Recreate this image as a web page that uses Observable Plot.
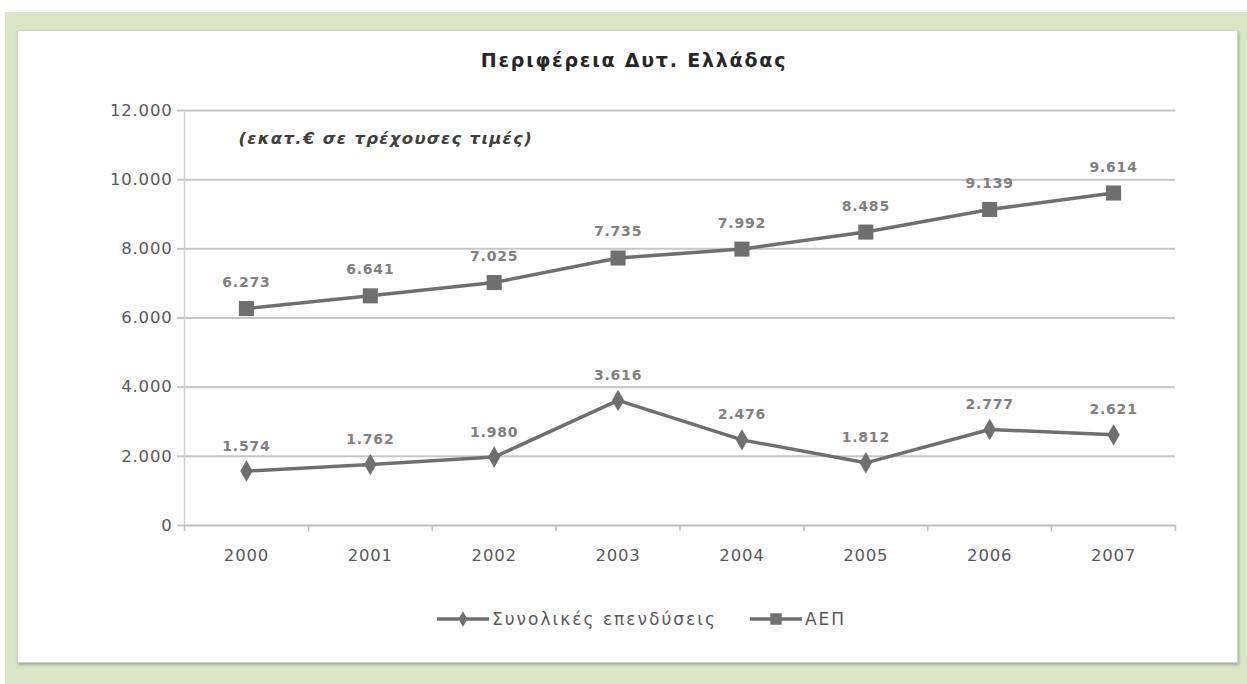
<!DOCTYPE html>
<html>
<head>
<meta charset="utf-8">
<script src="https://cdn.jsdelivr.net/npm/d3@7"></script>
<script src="https://cdn.jsdelivr.net/npm/@observablehq/plot@0.6"></script>
<style>
  html, body { margin: 0; padding: 0; background: #ffffff; width: 1247px; height: 684px; overflow: hidden; }
  body { position: relative; font-family: "DejaVu Sans", sans-serif; }
  #frame { position: absolute; left: 5px; top: 12px; width: 1242px; height: 672px; background: #dbe6c6; }
  #panel { position: absolute; left: 17px; top: 30px; width: 1219px; height: 631px; background: #ffffff;
           border: 1px solid #d0d0d0; box-shadow: 1px 2px 3px rgba(0,0,0,0.25); }
  #title { position: absolute; left: 0; top: 49px; width: 1268px; text-align: center; font-weight: bold; font-size: 19px; letter-spacing: 1.8px; color: #262626; }
  #chart { position: absolute; left: 0; top: 90px; }
  #chart svg text { letter-spacing: 0.8px; }
  #chart svg text.note { letter-spacing: 1.3px; }
  #legend { position: absolute; top: 609px; left: 437px; display: flex; gap: 33px; font-size: 17px; letter-spacing: 2px; color: #595959; }
  .item { display: flex; align-items: center; gap: 3px; }
</style>
</head>
<body>
<div id="frame"></div>
<div id="panel"></div>
<div id="title">Περιφέρεια Δυτ. Ελλάδας</div>
<div id="chart"></div>
<div id="legend"></div>
<script>
const years = [2000, 2001, 2002, 2003, 2004, 2005, 2006, 2007];
const investments = [1574, 1762, 1980, 3616, 2476, 1812, 2777, 2621];
const gdp = [6273, 6641, 7025, 7735, 7992, 8485, 9139, 9614];
const seriesNames = ["Συνολικές επενδύσεις", "ΑΕΠ"];
const yTicks = [0, 2000, 4000, 6000, 8000, 10000, 12000];
const note = "(εκατ.€ σε τρέχουσες τιμές)";

const locale = d3.formatLocale({decimal: ",", thousands: ".", grouping: [3], currency: ["", "€"]});
const fmt = locale.format(",d");

const invData = years.map((y, i) => ({year: y, value: investments[i]}));
const gdpData = years.map((y, i) => ({year: y, value: gdp[i]}));
const bounds = [years[0] - 0.5, ...years.map(y => y + 0.5)];

const lineColor = "#6f6f6f";
const labelColor = "#808080";

const chart = Plot.plot({
  width: 1247,
  height: 485,
  marginLeft: 184,
  marginRight: 72,
  marginTop: 20,
  marginBottom: 50,
  style: {fontFamily: "'DejaVu Sans', sans-serif", background: "transparent", overflow: "visible"},
  x: {domain: [bounds[0], bounds[bounds.length - 1]]},
  y: {domain: [0, 12000]},
  marks: [
    Plot.ruleY(yTicks.filter(d => d > 0), {stroke: "#c6c6c6", strokeWidth: 2}),
    Plot.ruleX([bounds[0]], {stroke: "#d0d0d0", strokeWidth: 1.5}),
    Plot.ruleY([0], {stroke: "#bdbdbd", strokeWidth: 2}),
    Plot.axisY({ticks: yTicks, tickFormat: fmt, tickSize: 7, tickPadding: 5, stroke: "#c6c6c6", strokeWidth: 2,
                fontSize: 16.5, color: "#595959", label: null}),
    Plot.axisX({ticks: years, tickFormat: d => String(d), tickSize: 0, tickPadding: 24, fontSize: 16.5, color: "#595959", label: null}),
    Plot.axisX({ticks: bounds, tickFormat: () => "", tickSize: 6, stroke: "#bdbdbd", strokeWidth: 1.5, label: null}),
    Plot.text([note], {frameAnchor: "top-left", dx: 54, dy: 22, text: d => d, fontSize: 16.5, fontWeight: "bold", fontStyle: "italic", fill: "#404040", textAnchor: "start", className: "note"}),
    Plot.line(gdpData, {x: "year", y: "value", stroke: lineColor, strokeWidth: 3.5}),
    Plot.dot(gdpData, {x: "year", y: "value", symbol: "square", r: 8.5, fill: lineColor, stroke: null}),
    Plot.text(gdpData, {x: "year", y: "value", text: d => fmt(d.value), dy: -26, fontSize: 14, fontWeight: "bold", fill: labelColor}),
    Plot.line(invData, {x: "year", y: "value", stroke: lineColor, strokeWidth: 3.5}),
    Plot.dot(invData, {x: "year", y: "value", symbol: "diamond", r: 6.5, fill: lineColor, stroke: null}),
    Plot.text(invData, {x: "year", y: "value", text: d => fmt(d.value), dy: -25, fontSize: 14, fontWeight: "bold", fill: labelColor})
  ]
});
chart.querySelectorAll("g.note text, .note text").forEach(t => t.classList.add("note"));
document.getElementById("chart").appendChild(chart);

// legend
const legend = document.getElementById("legend");
const symbols = ["diamond", "square"];
seriesNames.forEach((name, i) => {
  const item = document.createElement("div");
  item.className = "item";
  const s = d3.create("svg").attr("width", 52).attr("height", 20);
  s.append("line").attr("x1", 0).attr("x2", 52).attr("y1", 10).attr("y2", 10).attr("stroke", lineColor).attr("stroke-width", 3.5);
  const sym = symbols[i] === "square" ? d3.symbolSquare : d3.symbolDiamond;
  const size = symbols[i] === "square" ? 130 : 70;
  s.append("path").attr("d", d3.symbol(sym, size)()).attr("transform", "translate(26,10)").attr("fill", lineColor);
  item.appendChild(s.node());
  const t = document.createElement("span");
  t.textContent = name;
  item.appendChild(t);
  legend.appendChild(item);
});
</script>
</body>
</html>
